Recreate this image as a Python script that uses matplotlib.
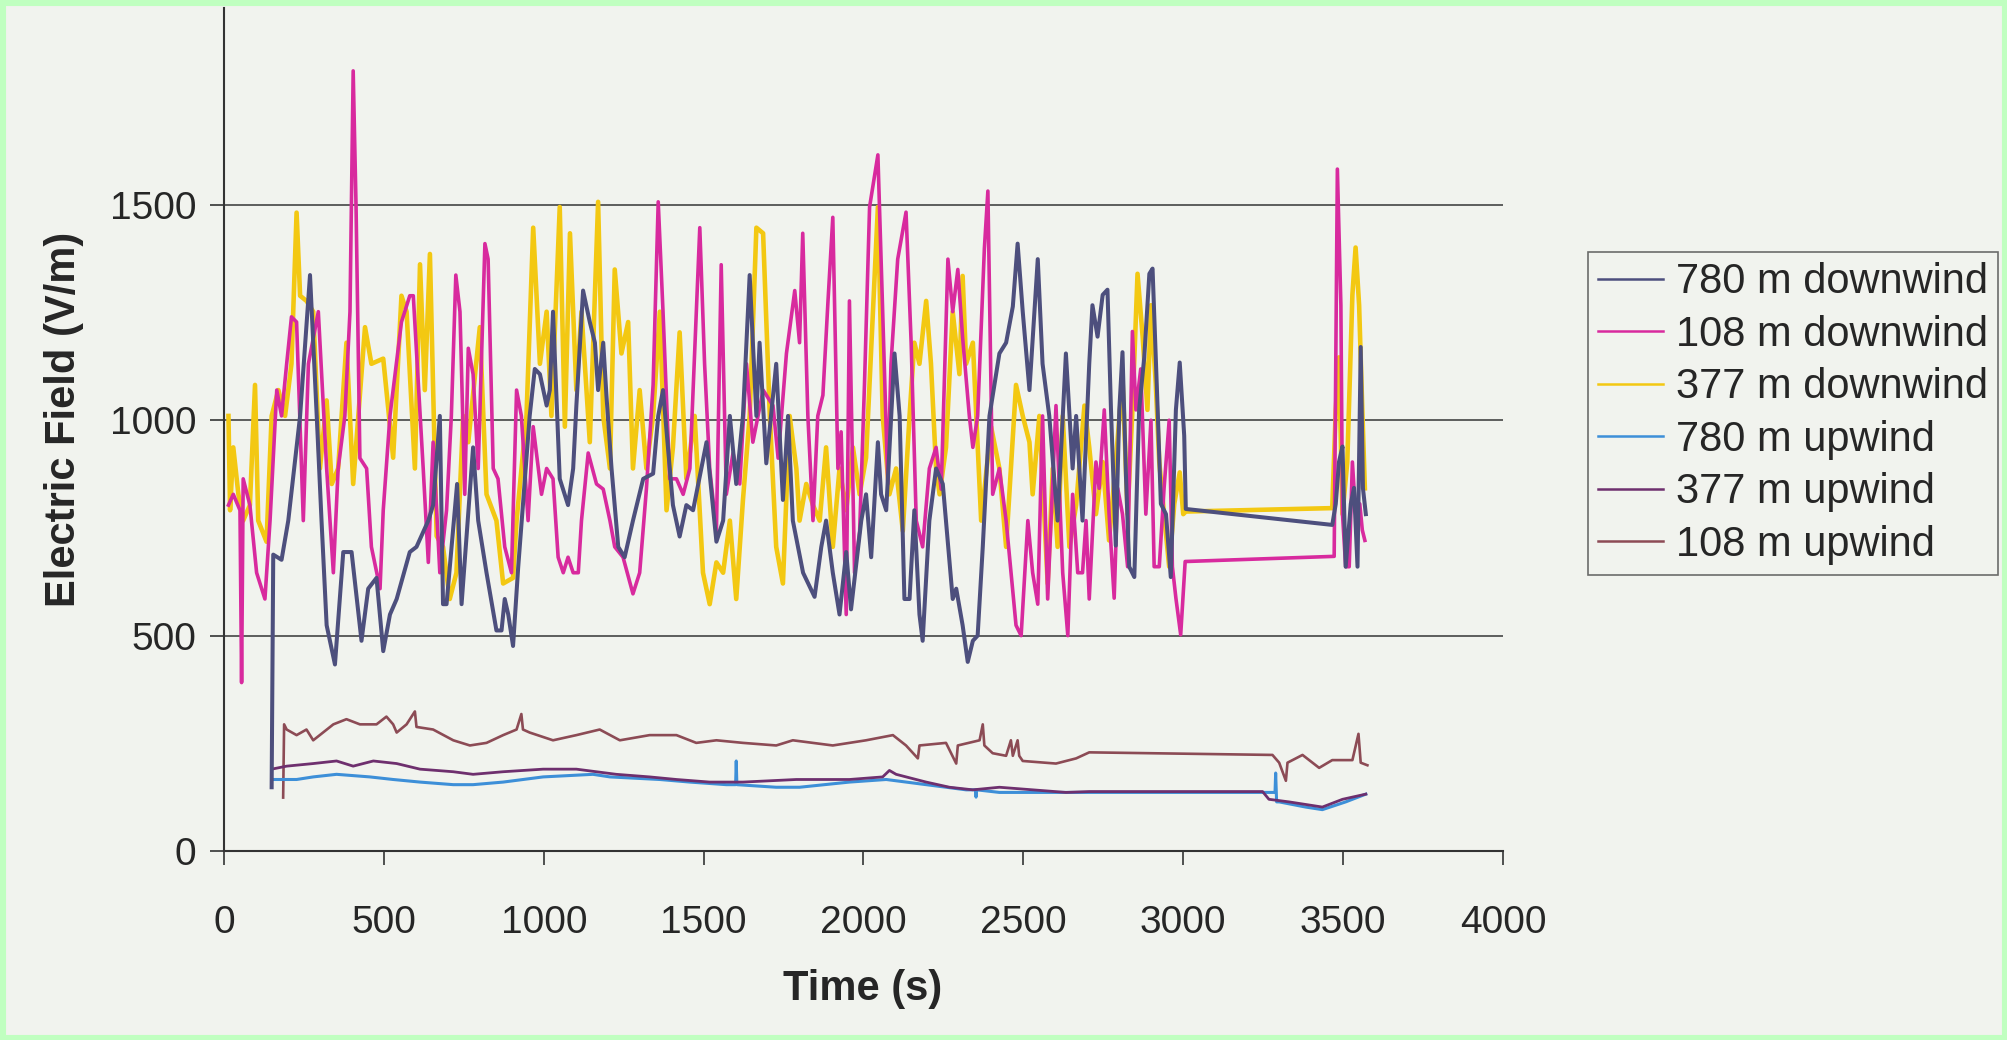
import matplotlib
matplotlib.use("Agg")
import matplotlib.pyplot as plt
from matplotlib.patches import Rectangle

plt.rcParams['font.family'] = ['Liberation Sans', 'DejaVu Sans']

# ---------------- data (time s, field V/m) ----------------
series_labels = ["780 m downwind", "108 m downwind", "377 m downwind",
                 "780 m upwind", "377 m upwind", "108 m upwind"]

dn780 = [(149,148),(154,688),(180,676),(201,767),(238,1010),(269,1337),(290,1010),(305,767),(321,524),
 (347,433),(373,694),(399,694),(430,488),(451,609),(477,634),(498,464),(519,549),(540,585),(581,694),
 (602,706),(639,767),(654,803),(675,1010),(685,573),(696,573),(729,852),(743,573),(779,937),(795,767),
 (821,646),(852,512),(868,512),(878,585),(889,549),(904,476),(920,658),(956,1010),(972,1119),(988,1107),
 (1009,1034),(1019,1070),(1029,1252),(1050,864),(1076,803),(1092,888),(1102,1034),(1123,1301),(1144,1228),
 (1160,1180),(1170,1070),(1186,1180),(1196,1058),(1212,888),(1233,706),(1253,682),(1279,767),(1311,864),
 (1342,876),(1358,1010),(1373,1070),(1404,803),(1425,730),(1446,803),(1467,791),(1493,888),(1509,949),
 (1540,718),(1561,767),(1582,1010),(1602,852),(1623,1010),(1644,1337),(1665,1010),(1675,1180),(1696,900),
 (1727,1131),(1748,815),(1764,1010),(1779,767),(1811,646),(1847,590),(1868,706),(1883,767),(1904,646),
 (1925,549),(1946,694),(1961,561),(1993,767),(2008,828),(2024,682),(2045,949),(2055,828),(2071,791),
 (2097,1155),(2113,1010),(2128,585),(2144,585),(2159,791),(2175,549),(2185,488),(2206,767),(2227,888),
 (2248,852),(2279,585),(2290,609),(2310,524),(2326,439),(2342,488),(2357,500),(2373,706),(2394,1010),
 (2425,1155),(2446,1180),(2467,1264),(2482,1410),(2498,1252),(2519,1070),(2545,1374),(2560,1131),
 (2581,1010),(2607,767),(2633,1155),(2654,888),(2665,1010),(2685,767),(2706,1131),(2716,1267),(2732,1194),
 (2748,1291),(2763,1303),(2774,1024),(2789,709),(2800,1024),(2810,1158),(2821,867),(2831,660),(2847,636),
 (2862,1024),(2878,1146),(2894,1340),(2904,1352),(2920,1024),(2930,806),(2946,782),(2961,636),(2977,1024),
 (2989,1134),(3003,964),(3008,794),(3466,757),(3477,806),(3487,903),(3498,939),(3508,660),(3524,806),
 (3534,843),(3545,660),(3555,1170),(3562,842),(3571,782)]

dn108 = [(14,803),(29,828),(50,791),(55,391),(60,864),(81,803),(102,646),(128,585),(144,767),(165,1070),
 (180,1010),(196,1131),(211,1240),(227,1228),(248,767),(264,1131),(295,1252),(321,888),(342,646),(357,888),
 (378,1010),(394,1252),(404,1811),(413,1495),(425,912),(446,888),(461,706),(488,609),(498,791),(519,1010),
 (555,1228),(581,1289),(592,1289),(623,888),(639,670),(654,949),(675,646),(696,791),(711,1010),(725,1337),
 (738,1252),(753,828),(764,1167),(779,1107),(795,888),(816,1410),(826,1374),(842,888),(857,864),(878,706),
 (899,646),(915,1070),(930,1010),(951,767),(967,985),(993,828),(1009,888),(1029,864),(1045,682),(1061,646),
 (1076,682),(1092,646),(1108,646),(1118,767),(1139,924),(1165,852),(1186,840),(1207,767),(1222,706),
 (1248,682),(1279,597),(1300,646),(1321,840),(1342,1082),(1358,1507),(1373,1252),(1394,864),(1415,864),
 (1436,828),(1457,888),(1488,1447),(1503,1131),(1519,888),(1540,743),(1555,1361),(1571,828),(1592,924),
 (1613,852),(1634,1131),(1654,949),(1686,1070),(1717,1034),(1733,912),(1759,1155),(1785,1301),(1800,1180),
 (1810,1434),(1826,1010),(1842,767),(1857,1010),(1873,1058),(1889,1277),(1904,1471),(1920,888),(1930,973),
 (1946,549),(1956,1277),(1972,646),(1988,743),(2003,1082),(2019,1495),(2045,1616),(2060,1252),(2076,852),
 (2086,1131),(2107,1374),(2133,1483),(2149,1180),(2165,767),(2185,706),(2206,888),(2227,937),(2243,840),
 (2264,1374),(2279,1252),(2295,1350),(2310,1192),(2331,1010),(2342,937),(2357,1010),(2378,1398),(2389,1532),
 (2404,828),(2425,888),(2446,767),(2477,524),(2493,500),(2514,767),(2529,646),(2545,573),(2560,1010),
 (2576,585),(2602,1034),(2623,646),(2639,500),(2654,828),(2670,646),(2685,646),(2696,767),(2706,585),
 (2727,903),(2737,842),(2753,1024),(2768,782),(2784,587),(2795,842),(2810,782),(2826,660),(2841,1206),
 (2852,1024),(2867,1119),(2883,782),(2899,1000),(2909,660),(2925,660),(2940,842),(2956,1000),(2966,660),
 (2977,587),(2992,502),(3006,672),(3472,684),(3482,1583),(3493,1267),(3498,782),(3508,660),(3519,660),
 (3529,903),(3539,782),(3552,806),(3560,745),(3568,721)]

dn377 = [(14,1010),(19,791),(29,937),(45,828),(60,767),(81,803),(97,1082),(107,767),(133,718),(149,1010),
 (170,1070),(191,1010),(211,1131),(227,1482),(238,1289),(258,1277),(279,1252),(300,888),(321,1046),
 (337,852),(357,888),(383,1180),(404,852),(441,1216),(461,1131),(498,1143),(529,913),(555,1289),(571,1252),
 (597,888),(613,1362),(628,1070),(644,1386),(665,731),(685,706),(706,585),(727,646),(748,1010),(764,949),
 (800,1216),(821,828),(852,767),(873,621),(904,634),(915,767),(946,1010),(967,1447),(988,1131),(1009,1252),
 (1024,1010),(1050,1495),(1066,985),(1082,1434),(1102,1070),(1118,1252),(1144,949),(1170,1507),(1186,1010),
 (1207,888),(1222,1350),(1243,1155),(1264,1228),(1279,888),(1300,1070),(1321,888),(1342,1010),(1363,1252),
 (1384,791),(1404,937),(1425,1204),(1446,864),(1472,1010),(1498,646),(1519,573),(1540,670),(1561,646),
 (1582,767),(1602,585),(1623,815),(1644,1010),(1665,1447),(1686,1434),(1707,1010),(1727,706),(1748,621),
 (1769,1010),(1790,888),(1800,767),(1821,852),(1842,803),(1863,767),(1883,937),(1904,706),(1925,888),
 (1946,791),(1967,937),(1988,828),(2008,913),(2045,1495),(2060,1010),(2081,828),(2102,888),(2123,743),
 (2144,1010),(2159,1180),(2175,1131),(2196,1277),(2211,1131),(2227,888),(2238,828),(2258,937),(2279,1252),
 (2300,1107),(2310,1335),(2321,1131),(2342,1180),(2368,767),(2399,985),(2425,888),(2446,706),(2477,1082),
 (2498,1010),(2519,949),(2529,828),(2550,1010),(2576,621),(2592,888),(2607,706),(2623,1010),(2644,706),
 (2665,803),(2691,1034),(2706,937),(2727,782),(2748,903),(2768,721),(2789,903),(2810,1097),(2826,782),
 (2841,1024),(2857,1340),(2873,1194),(2888,1024),(2899,1267),(2914,1085),(2925,903),(2940,782),(2956,660),
 (2972,806),(2989,879),(3000,782),(3008,788),(3466,796),(3477,1024),(3487,1146),(3498,782),(3513,903),
 (3529,1291),(3539,1401),(3550,1267),(3560,1024),(3568,842)]

up780 = [(149,166),(227,166),(279,172),(352,178),(456,172),(529,166),(613,160),(717,154),(779,154),
 (873,160),(998,172),(1154,178),(1207,172),(1363,166),(1457,160),(1571,154),(1600,154),(1602,209),
 (1604,154),(1727,148),(1800,148),(1956,160),(2071,166),(2196,154),(2321,142),(2350,142),(2352,125),
 (2354,142),(2425,136),(2633,136),(2706,136),(3258,136),(3287,136),(3289,181),(3292,114),(3300,114),
 (3383,102),(3435,96),(3508,114),(3571,132)]

up377 = [(149,190),(196,197),(279,203),(352,209),(404,197),(467,209),(540,203),(613,190),(717,184),
 (779,178),(873,184),(998,190),(1102,190),(1227,178),(1331,172),(1415,166),(1519,160),(1623,160),
 (1790,166),(1956,166),(2060,172),(2081,187),(2102,178),(2196,160),(2269,148),(2342,142),(2425,148),
 (2529,142),(2633,136),(2706,138),(3248,138),(3268,120),(3331,114),(3435,102),(3498,120),(3571,132)]

up108 = [(185,124),(188,294),(196,282),(227,269),(258,282),(279,257),(342,294),(383,306),(425,294),
 (477,294),(508,312),(529,294),(540,275),(571,294),(597,324),(602,288),(654,282),(717,257),(769,245),
 (821,251),(873,269),(915,282),(930,318),(935,282),(956,275),(1029,257),(1102,269),(1175,282),(1238,257),
 (1331,269),(1415,269),(1477,251),(1540,257),(1623,251),(1727,245),(1779,257),(1904,245),(2008,257),
 (2092,269),(2133,245),(2170,215),(2175,245),(2258,251),(2290,203),(2295,245),(2363,257),(2373,294),
 (2378,245),(2404,227),(2446,221),(2461,257),(2467,221),(2482,257),(2487,221),(2498,209),(2602,203),
 (2665,215),(2706,229),(3279,223),(3300,205),(3321,163),(3326,205),(3373,223),(3425,193),(3466,211),
 (3529,211),(3548,272),(3555,205),(3576,199)]

x_ticks = [0, 500, 1000, 1500, 2000, 2500, 3000, 3500, 4000]
y_ticks = [0, 500, 1000, 1500]

# ---------------- styling ----------------
W, H = 2007, 1040
bg = '#f1f3ee'
text_col = '#262626'
colors = {"780 m downwind": '#4d4f7d', "108 m downwind": '#d82a9e', "377 m downwind": '#f3c812',
          "780 m upwind": '#3d8fd8', "377 m upwind": '#6e2f6e', "108 m upwind": '#8c4b55'}

fig = plt.figure(figsize=(W / 100, H / 100), dpi=100)
fig.patch.set_facecolor(bg)
ax = fig.add_axes([224 / W, 1 - 851 / H, (1503 - 224) / W, (851 - 8) / H])
ax.set_facecolor(bg)

series = {"780 m downwind": dn780, "108 m downwind": dn108, "377 m downwind": dn377,
          "780 m upwind": up780, "377 m upwind": up377, "108 m upwind": up108}
zorders = {"377 m downwind": 3, "108 m downwind": 4, "780 m downwind": 5,
           "108 m upwind": 3, "377 m upwind": 4, "780 m upwind": 3.5}
widths = {"780 m downwind": 2.9, "108 m downwind": 2.6, "377 m downwind": 3.3,
          "780 m upwind": 2.2, "377 m upwind": 2.0, "108 m upwind": 1.9}

handles = []
for name in series_labels:
    pts = series[name]
    t = [p[0] for p in pts]
    v = [p[1] for p in pts]
    ax.plot(t, v, color=colors[name], lw=widths[name], zorder=zorders[name],
            solid_joinstyle='round')
    h, = ax.plot([], [], color=colors[name], lw=1.8)
    handles.append(h)

ax.set_xlim(0, 4000)
ax.set_ylim(0, 1957)
ax.set_xticks(x_ticks)
ax.set_yticks(y_ticks)
for s in ['top', 'right']:
    ax.spines[s].set_visible(False)
for s in ['left', 'bottom']:
    ax.spines[s].set_color('#333333')
    ax.spines[s].set_linewidth(1.5)
ax.yaxis.grid(True, color='#444444', lw=1.2)
ax.xaxis.grid(False)
ax.set_axisbelow(True)
ax.tick_params(axis='y', length=10, width=1.2, color='#333333', pad=10,
               labelsize=28, labelcolor=text_col)
ax.tick_params(axis='x', length=10, width=1.2, color='#333333', pad=29,
               labelsize=28, labelcolor=text_col)

fig.text(64 / W, 1 - 419 / H, "Electric Field (V/m)", rotation=90, ha='center', va='center',
         fontsize=30, fontweight='bold', color=text_col)
fig.text(863 / W, 1 - 989 / H, "Time (s)", ha='center', va='center',
         fontsize=30, fontweight='bold', color=text_col)

leg = fig.legend(handles, series_labels, loc='upper left',
                 bbox_to_anchor=(1588 / W, 1 - 252 / H), bbox_transform=fig.transFigure,
                 fontsize=30, frameon=True, fancybox=False, borderpad=0.25,
                 labelspacing=0.3, handlelength=1.55, handletextpad=0.3, borderaxespad=0)
leg.get_frame().set_edgecolor('#4a4a4a')
leg.get_frame().set_facecolor(bg)
leg.get_frame().set_linewidth(1.2)
for txt in leg.get_texts():
    txt.set_color(text_col)

fig.add_artist(Rectangle((0, 0), 1, 1, transform=fig.transFigure, fill=False,
                         edgecolor='#c0ffc0', linewidth=8, zorder=10))

fig.savefig("out.png", dpi=100, facecolor=bg)
